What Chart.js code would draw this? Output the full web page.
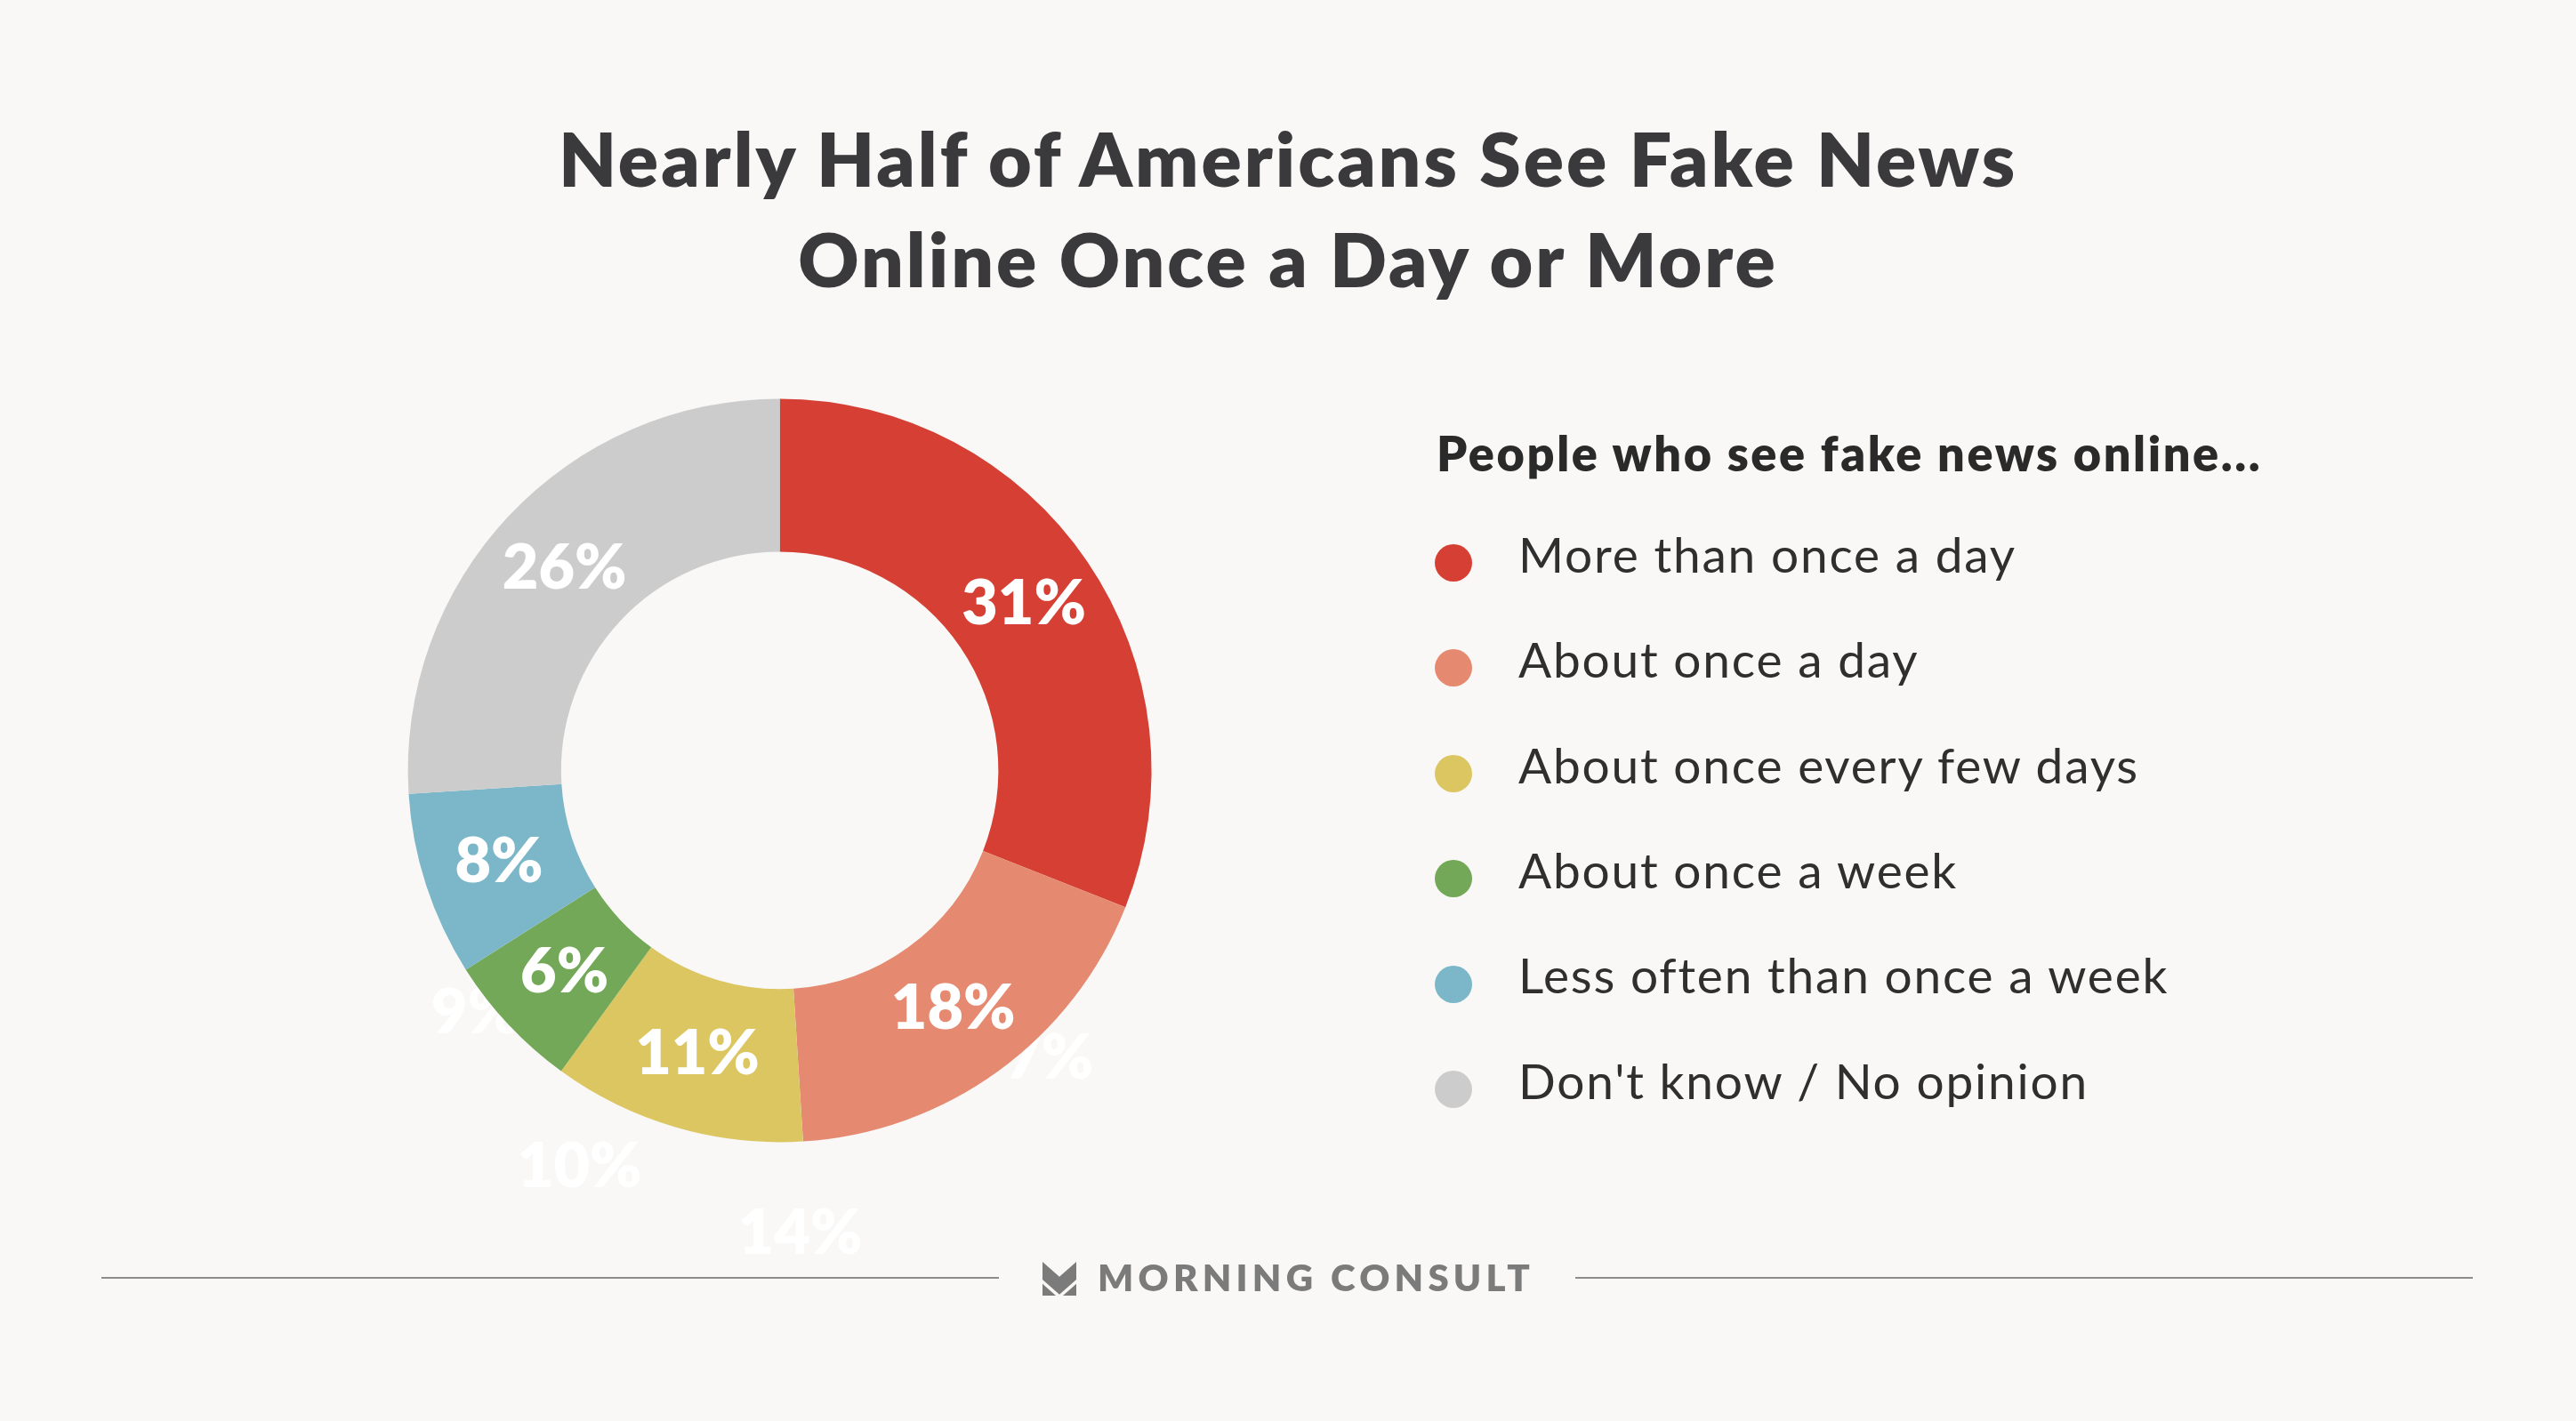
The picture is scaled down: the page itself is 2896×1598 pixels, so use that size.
<!DOCTYPE html>
<html>
<head>
<meta charset="utf-8">
<script src="https://cdn.jsdelivr.net/npm/chart.js@4/dist/chart.umd.min.js"></script>
<style>
  html, body { margin: 0; padding: 0; background: #f9f8f6; }
  #wrap { position: relative; width: 2896px; height: 1598px; overflow: hidden; background: #f9f8f6; font-family: Lato, "Open Sans", sans-serif; }
  #c { position: absolute; left: 0; top: 0; }
  .title { position: absolute; left: 0; width: 2896px; top: 121px; text-align: center; font-weight: 800; font-size: 84px; line-height: 113px; letter-spacing: 3px; color: #3a393b; }
  .lhead { position: absolute; left: 1615px; top: 478px; font-weight: 800; font-size: 54px; line-height: 1.2; letter-spacing: 2.6px; color: #2a2a2a; white-space: nowrap; }
  .litem { position: absolute; left: 1707px; font-weight: 400; font-size: 55px; line-height: 1.2; letter-spacing: 1.8px; color: #2f2f2f; white-space: nowrap; }
  .ldot { position: absolute; width: 42px; height: 42px; border-radius: 50%; left: 1613px; }
  .fline { position: absolute; height: 2px; top: 1436px; background: #8c8c8c; }
  .ftext { position: absolute; left: 1234px; top: 1411px; font-weight: 800; font-size: 42px; line-height: 1.2; letter-spacing: 5.2px; color: #7b7b7b; white-space: nowrap; }
  .flogo { position: absolute; left: 1172px; top: 1419px; }
</style>
</head>
<body>
<div id="wrap">
  <canvas id="c" width="2896" height="1598"></canvas>
  <div class="title" id="title"></div>
  <div class="lhead" id="lhead"></div>
  <div id="legend"></div>
  <div class="fline" style="left:114px; width:1009px;"></div>
  <div class="fline" style="left:1771px; width:1009px;"></div>
  <svg class="flogo" width="38" height="38" viewBox="0 0 114 114">
    <polygon points="0,0 57,50 114,0 114,60 57,110 0,60" fill="#7b7b7b"/>
    <polygon points="0,74 45,114 0,114" fill="#7b7b7b"/>
    <polygon points="114,74 69,114 114,114" fill="#7b7b7b"/>
  </svg>
  <div class="ftext" id="ftext"></div>
</div>
<script>
// ---- data ----
const titleLines = ["Nearly Half of Americans See Fake News", "Online Once a Day or More"];
const legendTitle = "People who see fake news online...";
const categories = [
  "More than once a day",
  "About once a day",
  "About once every few days",
  "About once a week",
  "Less often than once a week",
  "Don't know / No opinion"
];
const shares = [31, 18, 11, 6, 8, 26];
const sliceColors = ["#d63f33", "#e58a70", "#dcc662", "#72a857", "#7bb7c8", "#cccccc"];
// faint leftover labels visible in the reference (white on background)
const ghostLabels = ["9%", "7%", "10%", "14%"];
const ghostOffsets = [[-0.818, 0.653], [0.725, 0.775], [-0.538, 1.067], [0.055, 1.246]];
const footerText = "MORNING CONSULT";

// ---- text ----
document.getElementById('title').innerHTML = titleLines.map(t => '<div>' + t + '</div>').join('');
document.getElementById('lhead').textContent = legendTitle;
document.getElementById('ftext').textContent = footerText;
const legend = document.getElementById('legend');
categories.forEach((c, i) => {
  const step = 118.4;
  const dot = document.createElement('div');
  dot.className = 'ldot';
  dot.style.top = (633 + i * step - 21) + 'px';
  dot.style.background = sliceColors[i];
  legend.appendChild(dot);
  const t = document.createElement('div');
  t.className = 'litem';
  t.style.top = (589.7 + i * step) + 'px';
  t.textContent = c;
  legend.appendChild(t);
});

// ---- plugins ----
const ghostPlugin = {
  id: 'ghost',
  beforeDatasetsDraw(chart) {
    const arc = chart.getDatasetMeta(0).data[0];
    if (!arc) return;
    const ctx = chart.ctx;
    ctx.save();
    ctx.fillStyle = '#ffffff';
    ctx.font = '800 70px Lato';
    ctx.textAlign = 'center';
    ctx.textBaseline = 'middle';
    ghostLabels.forEach((g, i) => {
      ctx.fillText(g, arc.x + ghostOffsets[i][0] * arc.outerRadius, arc.y + ghostOffsets[i][1] * arc.outerRadius);
    });
    ctx.restore();
  }
};
const labelPlugin = {
  id: 'sliceLabels',
  afterDatasetsDraw(chart) {
    const ctx = chart.ctx;
    ctx.save();
    ctx.fillStyle = '#ffffff';
    ctx.font = '800 70px Lato';
    ctx.textAlign = 'center';
    ctx.textBaseline = 'middle';
    chart.getDatasetMeta(0).data.forEach((arc, i) => {
      const p = arc.getCenterPoint();
      ctx.fillText(shares[i] + '%', p.x, p.y);
    });
    ctx.restore();
  }
};

new Chart(document.getElementById('c'), {
  type: 'doughnut',
  data: {
    labels: categories,
    datasets: [{
      data: shares,
      backgroundColor: sliceColors,
      borderWidth: 0,
      hoverOffset: 0
    }]
  },
  options: {
    responsive: false,
    devicePixelRatio: 1,
    animation: false,
    cutout: '58.8%',
    layout: { padding: { left: 458.6, right: 1601.4, top: 448.4, bottom: 313.6 } },
    plugins: { legend: { display: false }, title: { display: false }, tooltip: { enabled: false } }
  },
  plugins: [ghostPlugin, labelPlugin]
});
</script>
</body>
</html>
